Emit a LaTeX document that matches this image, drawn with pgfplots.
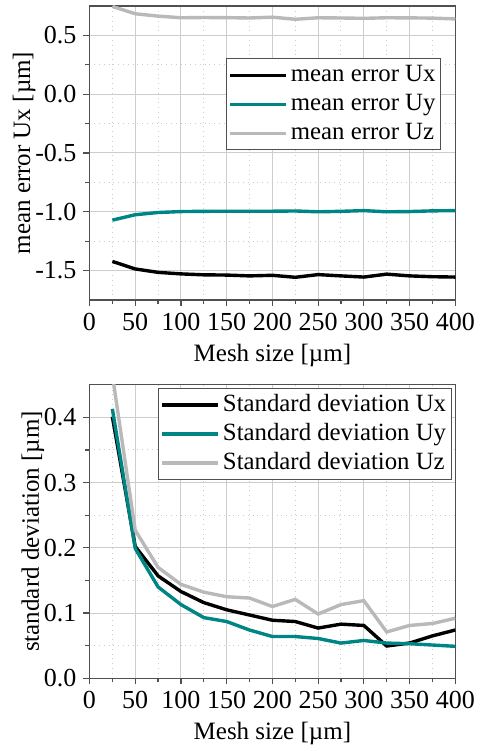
\documentclass[border=0pt]{standalone}
\usepackage{fontspec}
\setmainfont{Liberation Serif}
\usepackage{pgfplots}
\pgfplotsset{compat=1.18}
\definecolor{cteal}{RGB}{0,133,133}
\definecolor{cgray}{RGB}{185,185,185}
\definecolor{cgrid}{RGB}{205,205,205}
\definecolor{caxis}{RGB}{80,80,80}
\pgfplotsset{
  myaxis/.style={
    scale only axis, width=182.9pt, height=147pt,
    xmin=0, xmax=400, xtick={0,50,...,400}, minor x tick num=1,
    grid=both,
    major grid style={cgrid, line width=0.5pt},
    minor grid style={cgrid, dotted, line width=0.5pt},
    axis line style={caxis, line width=0.7pt},
    tick style={caxis, line width=0.6pt},
    tick align=outside, major tick length=3pt, minor tick length=2pt,
    xtick pos=left, ytick pos=left,
    tick label style={font=\rmfamily\fontsize{13}{13}\selectfont},
    label style={font=\rmfamily\fontsize{12.5}{12.5}\selectfont},
    ylabel shift=-7pt,
    /pgf/number format/assume math mode=true,
    legend cell align=left,
    legend image code/.code={\draw[##1] (0pt,0pt) -- (28pt,0pt);},
    legend style={draw=caxis, line width=0.5pt, font=\rmfamily\fontsize{12.4}{12.4}\selectfont,
      inner xsep=1pt, inner ysep=1pt, row sep=0pt,
      nodes={inner sep=1.5pt, text height=9pt, text depth=2.5pt}},
    xlabel={Mesh size [µm]},
  }
}
\pgfplotstableread{
x ux uy uz
25 -1.422 -1.071 0.746
50 -1.486 -1.025 0.684
75 -1.515 -1.006 0.664
100 -1.528 -0.998 0.650
125 -1.536 -0.996 0.652
150 -1.538 -0.995 0.651
175 -1.545 -0.995 0.648
200 -1.540 -0.995 0.655
225 -1.557 -0.993 0.637
250 -1.534 -1.000 0.650
275 -1.545 -0.996 0.648
300 -1.555 -0.990 0.645
325 -1.530 -1.000 0.650
350 -1.545 -0.998 0.649
375 -1.552 -0.992 0.647
400 -1.555 -0.990 0.640
}\topdata
\pgfplotstableread{
x sx sy sz
25 0.401 0.413 0.465
50 0.202 0.199 0.227
75 0.157 0.140 0.170
100 0.133 0.113 0.144
125 0.116 0.093 0.132
150 0.105 0.087 0.125
175 0.097 0.074 0.123
200 0.089 0.064 0.110
225 0.087 0.064 0.121
250 0.077 0.061 0.0985
275 0.083 0.054 0.113
300 0.081 0.058 0.119
325 0.0495 0.054 0.071
350 0.054 0.053 0.081
375 0.065 0.051 0.084
400 0.074 0.049 0.092
}\botdata
\begin{document}
\begin{tikzpicture}
\useasboundingbox (0,0) rectangle (242pt,375.5pt);
\begin{axis}[myaxis, at={(44.75pt,225.5pt)}, anchor=south west,
  ymin=-1.75, ymax=0.75, ytick={-1.5,-1,...,0.5}, minor y tick num=1,
  yticklabel style={/pgf/number format/.cd, fixed, fixed zerofill, precision=1},
  ylabel={mean error Ux [µm]},
  legend style={at={(0.961,0.822)}, anchor=north east}]
\addplot[black, line width=1.7pt] table[x=x,y=ux] {\topdata};
\addplot[cteal, line width=1.7pt] table[x=x,y=uy] {\topdata};
\addplot[cgray, line width=1.7pt] table[x=x,y=uz] {\topdata};
\legend{mean error Ux, mean error Uy, mean error Uz}
\end{axis}
\begin{axis}[myaxis, at={(44.75pt,36.35pt)}, anchor=south west, height=146.8pt,
  ymin=0, ymax=0.45, ytick={0,0.1,...,0.4}, minor y tick num=1,
  yticklabel style={/pgf/number format/.cd, fixed, fixed zerofill, precision=1},
  ylabel={standard deviation [µm]},
  legend style={at={(0.99,0.989)}, anchor=north east}]
\addplot[black, line width=1.7pt] table[x=x,y=sx] {\botdata};
\addplot[cteal, line width=1.7pt] table[x=x,y=sy] {\botdata};
\addplot[cgray, line width=1.7pt] table[x=x,y=sz] {\botdata};
\legend{Standard deviation Ux, Standard deviation Uy, Standard deviation Uz}
\end{axis}
\end{tikzpicture}
\end{document}
